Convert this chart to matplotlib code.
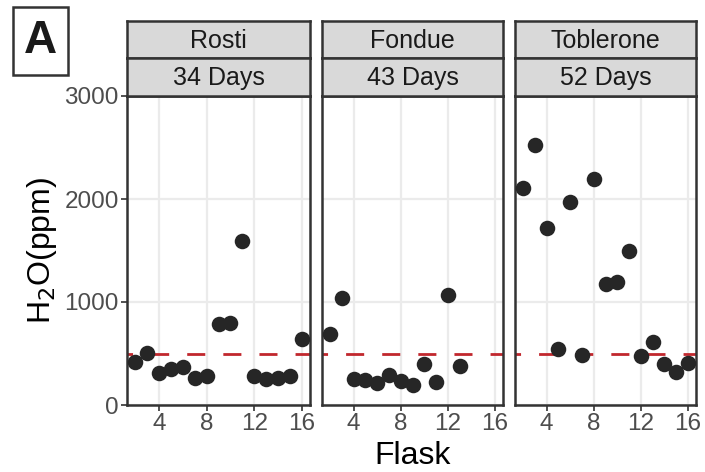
import numpy as np
import matplotlib
matplotlib.use('Agg')
import matplotlib.pyplot as plt
from matplotlib.patches import Rectangle

plt.rcParams['font.family'] = ['Liberation Sans', 'DejaVu Sans']

# data
sites = ['Rosti', 'Fondue', 'Toblerone']
days = ['34 Days', '43 Days', '52 Days']

rosti_flask = [2, 3, 4, 5, 6, 7, 8, 9, 10, 11, 12, 13, 14, 15, 16]
rosti_h2o = [420, 505, 310, 345, 365, 265, 280, 790, 800, 1590, 280, 250, 265, 280, 640]

fondue_flask = [2, 3, 4, 5, 6, 7, 8, 9, 10, 11, 12, 13]
fondue_h2o = [685, 1040, 250, 242, 210, 290, 235, 195, 396, 220, 1072, 377]

toblerone_flask = [2, 3, 4, 5, 6, 7, 8, 9, 10, 11, 12, 13, 14, 15, 16]
toblerone_h2o = [2110, 2525, 1720, 548, 1975, 490, 2195, 1178, 1198, 1500, 473, 612, 396, 316, 410]

threshold = 500

flasks = [rosti_flask, fondue_flask, toblerone_flask]
values = [rosti_h2o, fondue_h2o, toblerone_h2o]

W, H = 705, 472
fig = plt.figure(figsize=(W / 100, H / 100), dpi=100)

def box(x0, y0, x1, y1):
    # pixel box (top-left origin) -> figure fraction
    return [x0 / W, 1 - y1 / H, (x1 - x0) / W, (y1 - y0) / H]

panel_x = [(127, 310), (322, 503), (515, 696)]
top, bottom = 96, 405
dark = '#333333'
tick_col = '#4D4D4D'

for i, (x0, x1) in enumerate(panel_x):
    ax = fig.add_axes(box(x0, top, x1, bottom))
    ax.set_facecolor('white')
    ax.set_xlim(1.3, 16.7)
    ax.set_ylim(0, 3000)
    ax.set_xticks([4, 8, 12, 16])
    ax.set_yticks([0, 1000, 2000, 3000])
    ax.grid(True, color='#EBEBEB', linewidth=1.6, zorder=0)
    ax.set_axisbelow(True)
    ax.axhline(threshold, color='#C1272D', linestyle=(4.5, (6.5, 6.5)), linewidth=2.0, zorder=2)
    ax.scatter(flasks[i], values[i], s=125, color='#262626', zorder=3, linewidths=0)
    for sp in ax.spines.values():
        sp.set_color(dark)
        sp.set_linewidth(1.8)
    ax.tick_params(axis='both', colors=dark, labelcolor=tick_col, labelsize=17.5,
                   length=4, width=1.2, pad=2)
    if i > 0:
        ax.set_yticklabels([])
        ax.tick_params(axis='y', length=0)
    else:
        ax.set_ylabel('H$_2$O(ppm)', fontsize=23, color='black', labelpad=4)
    if i == 1:
        ax.set_xlabel('Flask', fontsize=23, color='black', labelpad=4)

    # facet strips
    for j, (y0, y1, label) in enumerate([(21, 58, sites[i]), (58, 96, days[i])]):
        sax = fig.add_axes(box(x0, y0, x1, y1))
        sax.set_facecolor('#D9D9D9')
        sax.set_xticks([])
        sax.set_yticks([])
        for sp in sax.spines.values():
            sp.set_color(dark)
            sp.set_linewidth(1.8)
        sax.text(0.5, 0.47, label, ha='center', va='center', fontsize=18,
                 color='#1A1A1A', transform=sax.transAxes)

# panel letter
fig.patches.append(Rectangle((13 / W, 1 - 75 / H), 55 / W, 68 / H, transform=fig.transFigure,
                             fill=False, edgecolor=dark, linewidth=1.8))
fig.text(40.5 / W, 1 - 41 / H, 'A', ha='center', va='center', fontsize=33,
         fontweight='bold', color='#1A1A1A')

plt.savefig('out.png', dpi=100)
